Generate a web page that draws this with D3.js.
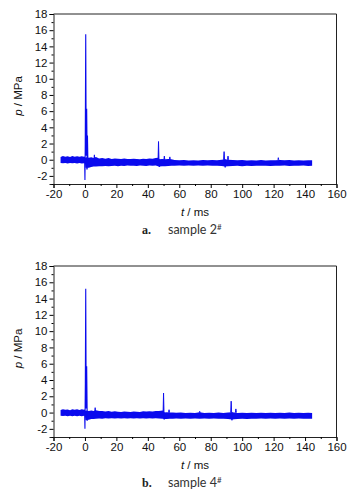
<!DOCTYPE html>
<html>
<head>
<meta charset="utf-8">
<script src="https://cdn.jsdelivr.net/npm/d3@7"></script>
<style>
  body { margin: 0; background: #fff; }
  .tick text { font-family: "Liberation Sans", Arial, sans-serif; font-size: 11.5px; fill: #111; }
  .axis-label { font-family: "Liberation Sans", Arial, sans-serif; font-size: 11.5px; fill: #111; }
  .caption { font-family: Lato, "Open Sans", sans-serif; font-size: 12.5px; fill: #333; }
  .caption-tag { font-family: "Liberation Serif", serif; font-weight: bold; font-size: 12px; fill: #222; }
</style>
</head>
<body>
<svg id="chart" width="363" height="495"></svg>
<script>
// axis ticks
const xTicks = [-20, 0, 20, 40, 60, 80, 100, 120, 140, 160];
const xMinor = [-10, 10, 30, 50, 70, 90, 110, 130, 150];
const yTicks = [-2, 0, 2, 4, 6, 8, 10, 12, 14, 16, 18];
const yMinor = [-3, -1, 1, 3, 5, 7, 9, 11, 13, 15, 17];

// sample 2#: envelope of the noise band (t in ms, p in MPa)
const bandT2 = [-15.5, -14, -12.5, -11, -9.5, -8, -6.5, -5, -3.5, -2, -0.5, 0,
  0.3, 1, 2.5, 4, 5.5, 7, 9, 11, 13, 15, 17, 19, 21, 23, 25, 27, 29, 31, 33, 35, 37, 39, 41, 43, 45, 46.5,
  47.5, 49, 51, 53, 55, 57, 60, 63, 66, 69, 72, 75, 78, 81, 84, 87, 89, 91, 94, 97, 100, 103, 106, 109,
  112, 115, 118, 121, 124, 127, 130, 133, 136, 139, 142, 144.5];
const bandHi2 = [0.35, 0.45, 0.38, 0.42, 0.35, 0.45, 0.38, 0.42, 0.36, 0.44, 0.38, 0.4,
  0.2, 0.3, 0.25, 0.3, 0.2, 0.35, 0.15, 0.2, 0.12, 0.2, 0.1, 0.15, 0.12, 0.08, 0.14, 0.1, 0.08, 0.13, 0.1, 0.06, 0.12, 0.1, 0.15, 0.12, 0.2, 0.25,
  0.05, 0.1, 0.05, 0.1, 0.05, -0.05, -0.08, -0.05, -0.1, -0.06, -0.1, -0.05, -0.08, -0.05, -0.08, 0.0, 0.05, 0.0, -0.05, -0.08, -0.05, -0.1, -0.06, -0.1,
  -0.05, -0.1, -0.06, -0.08, -0.02, -0.08, -0.05, -0.1, -0.06, -0.1, -0.06, -0.08];
const bandLo2 = [-0.4, -0.45, -0.42, -0.48, -0.42, -0.45, -0.4, -0.47, -0.42, -0.46, -0.43, -0.45,
  -1.0, -1.0, -1.0, -0.9, -0.85, -0.85, -0.8, -0.8, -0.78, -0.82, -0.78, -0.75, -0.8, -0.75, -0.78, -0.72, -0.76, -0.75, -0.78, -0.72, -0.74, -0.77, -0.72, -0.75, -0.72, -0.8,
  -0.85, -0.8, -0.8, -0.78, -0.75, -0.75, -0.72, -0.75, -0.72, -0.74, -0.72, -0.76, -0.72, -0.74, -0.75, -0.78, -0.85, -0.8, -0.78, -0.76, -0.8, -0.75, -0.78, -0.74,
  -0.76, -0.74, -0.77, -0.74, -0.76, -0.73, -0.77, -0.74, -0.76, -0.73, -0.77, -0.75];
// sample 2#: main pulse trace
const pulseT2 = [-0.2, 0.0, 0.2, 0.5, 0.8, 1.1, 1.4, 1.6, 1.9];
const pulseP2 = [0.0, -2.5, 2.0, 15.5, 0.5, 6.3, 0.0, 3.0, -0.5];
// sample 2#: smaller spikes
const spikeT2 = [1.3, 6.0, 46.8, 47.3, 50.5, 54.0, 88.5, 89.2, 91.0, 123.0];
const spikeP2 = [-1.2, 0.6, 2.25, -0.9, 0.45, 0.35, 1.0, -0.95, 0.45, 0.25];

// sample 4#: envelope of the noise band
const bandT4 = [-15.5, -14, -12.5, -11, -9.5, -8, -6.5, -5, -3.5, -2, -0.5, 0,
  0.3, 1, 2.5, 4, 5.5, 7, 9, 11, 13, 15, 17, 19, 21, 23, 25, 27, 29, 31, 33, 35, 37, 39, 41, 43, 45, 47, 49.5,
  50.5, 52, 54, 56, 58, 61, 64, 67, 70, 73, 76, 79, 82, 85, 88, 91, 93.5, 95, 97, 100, 103, 106, 109,
  112, 115, 118, 121, 124, 127, 130, 133, 136, 139, 142, 144.5];
const bandHi4 = [0.32, 0.4, 0.35, 0.38, 0.3, 0.42, 0.36, 0.4, 0.33, 0.4, 0.35, 0.38,
  0.2, 0.25, 0.2, 0.25, 0.2, 0.3, 0.18, 0.2, 0.12, 0.18, 0.1, 0.15, 0.1, 0.08, 0.12, 0.1, 0.08, 0.12, 0.1, 0.08, 0.15, 0.12, 0.15, 0.14, 0.18, 0.2, 0.25,
  0.0, 0.05, 0.02, 0.0, -0.02, 0.0, -0.05, -0.02, -0.05, 0.05, -0.05, -0.02, -0.05, 0.0, -0.04, 0.02, 0.05, 0.0, -0.05, -0.02, -0.06, -0.03, -0.06,
  -0.03, -0.06, -0.02, -0.05, -0.03, -0.06, 0.0, -0.05, -0.02, -0.06, -0.03, -0.05];
const bandLo4 = [-0.38, -0.42, -0.4, -0.45, -0.4, -0.44, -0.38, -0.45, -0.4, -0.44, -0.4, -0.42,
  -0.9, -0.9, -0.88, -0.8, -0.78, -0.75, -0.72, -0.75, -0.7, -0.74, -0.7, -0.72, -0.7, -0.73, -0.7, -0.72, -0.7, -0.74, -0.7, -0.72, -0.7, -0.73, -0.7, -0.72, -0.7, -0.72, -0.75,
  -0.8, -0.78, -0.75, -0.76, -0.74, -0.77, -0.74, -0.76, -0.74, -0.77, -0.74, -0.76, -0.74, -0.77, -0.75, -0.78, -0.85, -0.82, -0.78, -0.76, -0.78, -0.75, -0.77,
  -0.74, -0.77, -0.74, -0.76, -0.74, -0.77, -0.74, -0.76, -0.74, -0.77, -0.75, -0.76];
// sample 4#: main pulse trace
const pulseT4 = [-0.2, 0.0, 0.25, 0.5, 0.8, 1.1, 1.4, 1.7];
const pulseP4 = [0.0, -2.0, 3.6, 15.2, 0.5, 5.7, 0.0, -0.6];
// sample 4#: smaller spikes
const spikeT4 = [1.4, 6.5, 50.0, 50.4, 53.5, 93.0, 93.5, 96.0, 73.0];
const spikeP4 = [-1.0, 0.6, 2.4, -0.85, 0.35, 1.4, -0.95, 0.45, 0.15];

const svg = d3.select("#chart");

// one panel: frame, axes, noise band and spikes
function drawPanel(top, bottom, band, pulse, spikes, tag, caption) {
    const x = d3.scaleLinear().domain([-20, 160]).range([53.5, 336.5]);
    const y = d3.scaleLinear().domain([-3, 18]).range([bottom, top]);
    const g = svg.append("g");

    // frame (top and right)
    g.append("path")
        .attr("d", `M${x(-20)},${y(18)}H${x(160)}V${y(-3)}`)
        .attr("fill", "none")
        .attr("stroke", "#222")
        .attr("stroke-width", 1);

    // noise band
    const area = d3.area()
        .x((d, i) => x(band.t[i]))
        .y0((d, i) => y(band.lo[i]))
        .y1((d, i) => y(band.hi[i]));
    g.append("path")
        .attr("d", area(band.t))
        .attr("fill", "#0a0aee");

    // main pulse
    const line = d3.line()
        .x((d, i) => x(pulse.t[i]))
        .y((d, i) => y(pulse.p[i]));
    g.append("path")
        .attr("d", line(pulse.t))
        .attr("fill", "none")
        .attr("stroke", "#0a0aee")
        .attr("stroke-width", 1.1);

    // small spikes
    g.selectAll(".spike")
        .data(spikes.t.map((t, i) => [t, spikes.p[i]]))
        .join("path")
        .attr("class", "spike")
        .attr("d", d => `M${x(d[0] - 0.3)},${y(0)}L${x(d[0])},${y(d[1])}L${x(d[0] + 0.3)},${y(0)}`)
        .attr("fill", "#0a0aee")
        .attr("stroke", "#0a0aee")
        .attr("stroke-width", 0.9);

    // axes
    const fmt = d => String(d);
    g.append("g")
        .attr("transform", `translate(0,${bottom})`)
        .call(d3.axisBottom(x).tickValues(xTicks).tickSize(4).tickPadding(2).tickFormat(fmt))
        .call(a => a.select(".domain").attr("stroke", "#222"));
    g.append("g")
        .attr("transform", `translate(0,${bottom})`)
        .call(d3.axisBottom(x).tickValues(xMinor).tickSize(2).tickFormat(""))
        .call(a => a.select(".domain").remove());
    g.append("g")
        .attr("transform", `translate(${x(-20)},0)`)
        .call(d3.axisLeft(y).tickValues(yTicks).tickSize(4).tickPadding(2).tickFormat(fmt))
        .call(a => a.select(".domain").attr("stroke", "#222"));
    g.append("g")
        .attr("transform", `translate(${x(-20)},0)`)
        .call(d3.axisLeft(y).tickValues(yMinor).tickSize(2).tickFormat(""))
        .call(a => a.select(".domain").remove());

    // axis labels
    const xl = g.append("text")
        .attr("class", "axis-label")
        .attr("x", 195)
        .attr("y", bottom + 32)
        .attr("text-anchor", "middle");
    xl.append("tspan").attr("font-style", "italic").text("t");
    xl.append("tspan").text(" / ms");

    const cy = (top + bottom) / 2 - 3;
    const yl = g.append("text")
        .attr("class", "axis-label")
        .attr("transform", `translate(22,${cy}) rotate(-90)`)
        .attr("text-anchor", "middle");
    yl.append("tspan").attr("font-style", "italic").text("p");
    yl.append("tspan").text(" / MPa");

    // caption
    g.append("text")
        .attr("class", "caption-tag")
        .attr("x", 142)
        .attr("y", bottom + 50)
        .text(tag);
    const cap = g.append("text")
        .attr("class", "caption")
        .attr("x", 168)
        .attr("y", bottom + 50);
    cap.append("tspan").text(caption);
    cap.append("tspan").attr("font-size", "8px").attr("dy", -4).text("#");
}

drawPanel(14, 184, { t: bandT2, hi: bandHi2, lo: bandLo2 }, { t: pulseT2, p: pulseP2 },
    { t: spikeT2, p: spikeP2 }, "a.", "sample 2");
drawPanel(266, 437, { t: bandT4, hi: bandHi4, lo: bandLo4 }, { t: pulseT4, p: pulseP4 },
    { t: spikeT4, p: spikeP4 }, "b.", "sample 4");
</script>
</body>
</html>
